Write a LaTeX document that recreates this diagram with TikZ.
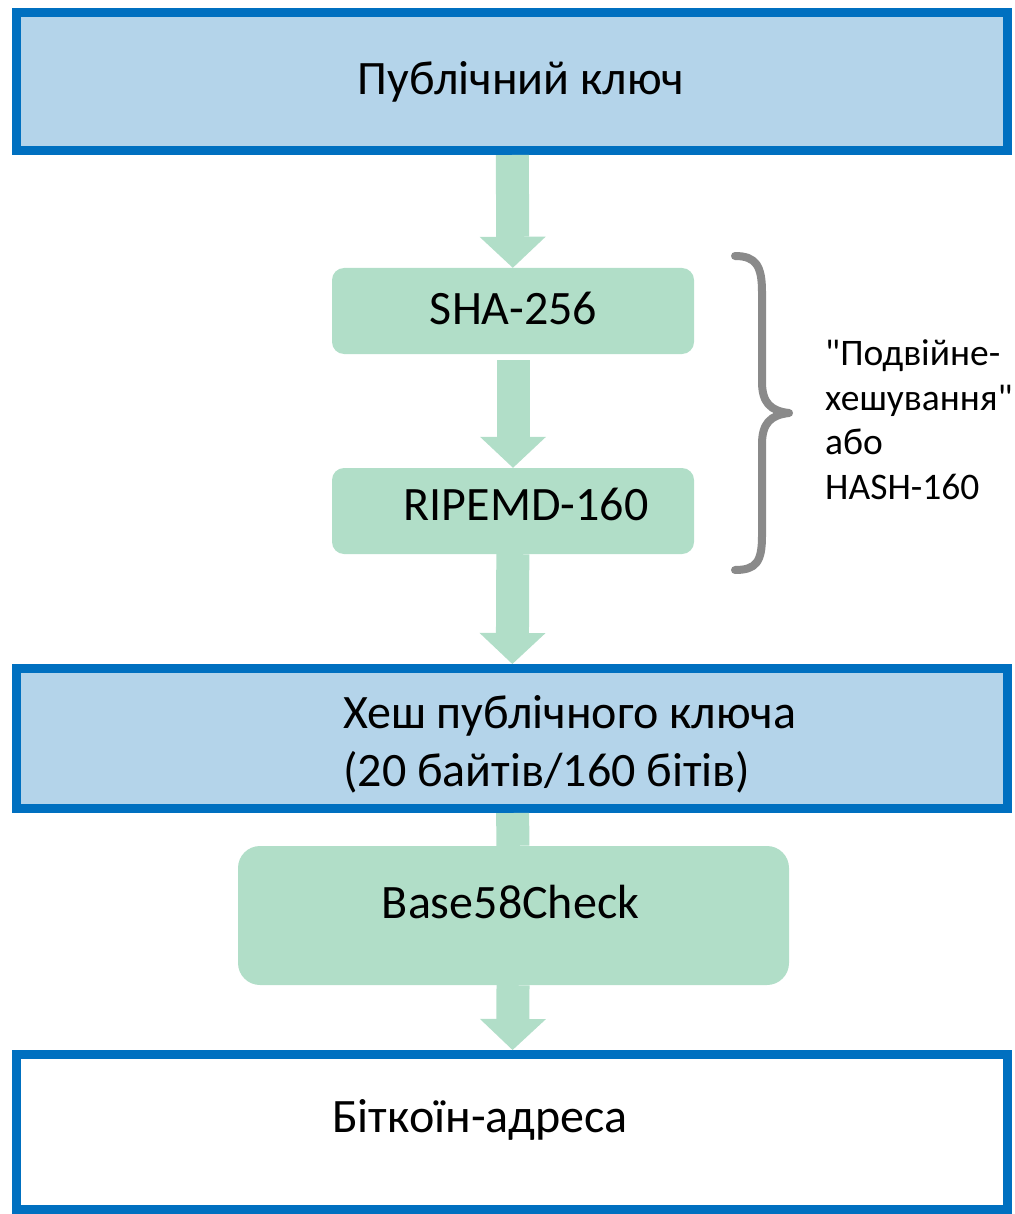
\documentclass[tikz,border=0pt]{standalone}
\usepackage{fontspec}
\setmainfont{Carlito}
\usetikzlibrary{arrows.meta}
\definecolor{keyblue}{RGB}{0,112,192}
\definecolor{keyfill}{RGB}{180,212,234}
\definecolor{stepgreen}{RGB}{177,222,200}
\definecolor{bracegray}{RGB}{138,138,138}
\tikzset{
  keybox/.style={draw=keyblue,line width=9pt,fill=keyfill,minimum width=991pt,inner sep=0pt},
  addrbox/.style={keybox,fill=white},
  hashbox/.style={fill=stepgreen,rounded corners=12pt,inner sep=0pt},
  flow/.style={draw=stepgreen,line width=33pt,-{Triangle[width=66pt,length=31pt,line width=0pt]}},
  flowline/.style={draw=stepgreen,line width=33pt},
  lbl/.style={font=\fontsize{48}{58}\selectfont,inner sep=0pt,anchor=base},
  sidelbl/.style={font=\fontsize{37.5}{44.5}\selectfont,inner sep=0pt,align=left},
}
\begin{document}
\begin{tikzpicture}[x=1pt,y=-1pt]
\useasboundingbox (0,0) rectangle (1014,1214);
% ---- boxes ----
\node[keybox,minimum height=138pt] (pub) at (512,81.5) {};
\node[hashbox,minimum width=362pt,minimum height=86pt] (sha) at (513,311) {};
\node[hashbox,minimum width=362pt,minimum height=86pt] (ripe) at (513,511) {};
\node[keybox,minimum height=140pt] (pkh) at (512,738.5) {};
\node[hashbox,rounded corners=22pt,minimum width=551pt,minimum height=139pt] (b58) at (513.5,915.5) {};
\node[addrbox,minimum height=155pt] (addr) at (512,1132) {};
% ---- texts ----
\node[lbl] (pubtxt) at (521,95) {Публічний ключ};
\node[lbl] (shatxt) at (513.5,324) {SHA-256};
\node[lbl] (ripetxt) at (526,520) {RIPEMD-160};
\node[lbl,anchor=base west,align=left] (pkhtxt) at (343,786) {Хеш публічного ключа\\(20 байтів/160 бітів)};
\node[lbl] (b58txt) at (510.5,918) {Base58Check};
\node[lbl] (addrtxt) at (480,1132) {Біткоїн-адреса};
\node[sidelbl,anchor=base west] (dbltxt) at (825,499) {\textquotedbl Подвійне-\\хешування\textquotedbl\\або\\HASH-160};
% ---- arrows ----
\draw[flow] (pub) -- (sha);
\draw[flow,shorten <=6pt] (sha) -- (ripe);
\draw[flow] (ripe) -- (pkh);
\draw[flowline] (pkh) -- (b58);
\draw[flow] (b58) -- (addr);
% ---- brace ----
\draw[bracegray,line width=8pt,line cap=round,line join=round] (735,256) .. controls (756,256) and (762,266) .. (762,292)
  -- (762,382) .. controls (762,402) and (770,411) .. (789,413)
  .. controls (770,415) and (762,424) .. (762,444)
  -- (762,536) .. controls (762,562) and (756,570) .. (735,570);
\end{tikzpicture}
\end{document}
